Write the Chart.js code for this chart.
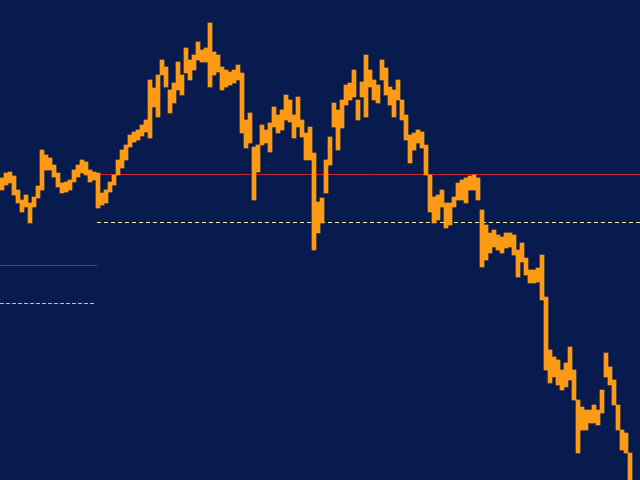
<!DOCTYPE html>
<html>
<head>
<meta charset="utf-8">
<script src="https://cdn.jsdelivr.net/npm/chart.js@4/dist/chart.umd.min.js"></script>
<style>
    html, body { margin: 0; padding: 0; background: #071b4f; }
    #wrap { width: 640px; height: 480px; position: relative; }
</style>
</head>
<body>
<div id="wrap"><canvas id="priceChart"></canvas></div>
<script>
// bar highs / lows, one per time slot
const highs = [302, 307, 308, 304, 290, 280, 285, 277, 283, 294,
    330, 325, 322, 315, 307, 297, 298, 300, 310, 315,
    320, 318, 310, 308, 307, 287, 290, 298, 305, 320,
    330, 335, 345, 348, 350, 355, 360, 400, 392, 405,
    420, 413, 390, 397, 418, 405, 432, 420, 425, 438,
    430, 432, 457, 428, 425, 413, 410, 408, 410, 415,
    407, 360, 367, 333, 335, 355, 350, 357, 373, 365,
    370, 385, 380, 365, 383, 360, 347, 353, 327, 278,
    282, 320, 343, 377, 370, 380, 395, 397, 410, 380,
    398, 425, 410, 400, 395, 420, 412, 393, 390, 400,
    380, 365, 345, 347, 350, 348, 335, 305, 283, 285,
    290, 277, 277, 283, 297, 300, 302, 304, 305, 302,
    270, 255, 247, 250, 245, 243, 247, 247, 245, 230,
    237, 222, 210, 210, 212, 225, 183, 130, 123, 120,
    110, 117, 133, 110, 80, 73, 70, 70, 75, 70,
    90, 127, 113, 100, 75, 50, 47, 27, null, null];
const lows = [290, 295, 297, 285, 277, 268, 273, 257, 273, 282,
    290, 310, 310, 303, 293, 287, 288, 290, 298, 303,
    307, 305, 298, 300, 272, 275, 277, 288, 295, 305,
    312, 320, 333, 338, 340, 344, 348, 342, 373, 363,
    405, 393, 367, 377, 390, 385, 407, 400, 410, 420,
    418, 418, 393, 405, 408, 390, 393, 395, 397, 400,
    347, 332, 337, 280, 308, 335, 337, 328, 353, 347,
    350, 360, 358, 342, 353, 343, 320, 320, 230, 247,
    257, 287, 315, 353, 330, 352, 375, 380, 383, 360,
    383, 363, 393, 380, 377, 400, 385, 375, 363, 380,
    360, 340, 317, 330, 337, 332, 305, 268, 257, 260,
    273, 252, 255, 273, 280, 280, 277, 290, 290, 280,
    213, 220, 227, 233, 230, 227, 232, 233, 225, 203,
    218, 205, 197, 197, 198, 180, 110, 97, 103, 95,
    90, 93, 100, 80, 27, 50, 50, 57, 57, 55,
    67, 103, 95, 75, 50, 30, 27, 0, null, null];

// horizontal levels and the slot range they cover
const levelValues = [306, 258, 215, 177];
const levelFrom = [24.25, 24.25, 0, 0];
const levelTo = [160, 160, 24.25, 23.75];
const levelColors = ['#c8282c', '#f4eaa0', '#1c6a2c', '#f0c818'];
const levelDashes = [[], [4, 3], [], [4, 2]];

document.addEventListener('DOMContentLoaded', function () {
    const labels = highs.map((h, i) => i);
    const ranges = highs.map((h, i) => (h === null ? null : [lows[i], h]));

    // level lines go under the price bars
    const levelsPlugin = {
        id: 'levels',
        beforeDatasetsDraw(chart) {
            const c = chart.ctx;
            const xs = chart.scales.x;
            const ys = chart.scales.y;
            const slotW = (xs.right - xs.left) / labels.length;
            c.save();
            c.lineWidth = 1;
            levelValues.forEach((v, i) => {
                const y = Math.round(ys.getPixelForValue(v)) + 0.5;
                c.strokeStyle = levelColors[i];
                c.setLineDash(levelDashes[i]);
                c.beginPath();
                c.moveTo(xs.left + levelFrom[i] * slotW, y);
                c.lineTo(xs.left + levelTo[i] * slotW, y);
                c.stroke();
            });
            c.restore();
        }
    };

    const ctx = document.getElementById('priceChart').getContext('2d');
    new Chart(ctx, {
        type: 'bar',
        data: {
            labels: labels,
            datasets: [{
                label: 'price',
                data: ranges,
                backgroundColor: '#ff9a14',
                borderWidth: 0,
                barPercentage: 1,
                categoryPercentage: 1,
                grouped: false
            }]
        },
        options: {
            responsive: true,
            maintainAspectRatio: false,
            animation: false,
            layout: { padding: 0 },
            scales: {
                x: { display: false },
                y: { display: false, min: 0, max: 480 }
            },
            plugins: {
                legend: { display: false },
                tooltip: { enabled: false }
            }
        },
        plugins: [levelsPlugin]
    });
});
</script>
</body>
</html>
